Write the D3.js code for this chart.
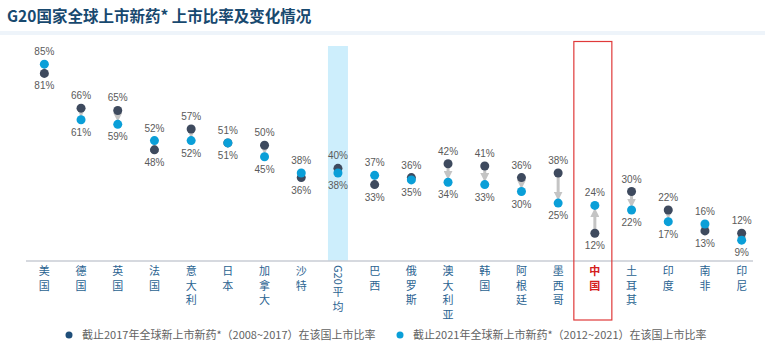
<!DOCTYPE html>
<html lang='zh'>
<head>
<meta charset='UTF-8'>
<title>G20 上市比率</title>
<script src='https://d3js.org/d3.v7.min.js'></script>
<style>
  body { margin: 0; background: #fff; }
  svg { display: block; font-family: 'Noto Sans CJK SC', 'Liberation Sans', sans-serif; }
</style>
</head>
<body>
<div id='chart'></div>
<script>
// data
const countries = ['美国', '德国', '英国', '法国', '意大利', '日本', '加拿大', '沙特', 'G20平均', '巴西',
  '俄罗斯', '澳大利亚', '韩国', '阿根廷', '墨西哥', '中国', '土耳其', '印度', '南非', '印尼'];
const rate2017 = [81, 66, 65, 48, 57, 51, 50, 36, 40, 33, 36, 42, 41, 36, 38, 12, 30, 22, 13, 12];
const rate2021 = [85, 61, 59, 52, 52, 51, 45, 38, 38, 37, 35, 34, 33, 30, 25, 24, 22, 17, 16, 9];
const legendLabels = ['截止2017年全球新上市新药*（2008~2017）在该国上市比率',
  '截止2021年全球新上市新药*（2012~2021）在该国上市比率'];

const W = 765, H = 354;
const dark = '#3e4a5e', light = '#0a9fd8', grey = '#c4c4c4';
const numFont = "'Liberation Sans', Arial, sans-serif";

const data = countries.map((c, i) => ({ name: c, a: rate2017[i], b: rate2021[i] }));

const svg = d3.select('#chart').append('svg').attr('width', W).attr('height', H);

// title + pale strip below it
svg.append('text')
  .attr('x', 7).attr('y', 22)
  .attr('font-size', 15.5).attr('font-weight', 'bold')
  .attr('fill', '#18496f')
  .text('G20国家全球上市新药* 上市比率及变化情况');
svg.append('rect').attr('x', 0).attr('y', 31).attr('width', W).attr('height', 4).attr('fill', '#eef4fa');

const x = d3.scaleBand().domain(countries).range([26, 760]);
const y = d3.scaleLinear().domain([0, 100]).range([261, 29.4]);
const cx = d => x(d) + x.bandwidth() / 2;

// highlight band for the G20 average
svg.append('rect')
  .attr('x', cx('G20平均') - 10).attr('y', 46)
  .attr('width', 20).attr('height', 261 - 46)
  .attr('fill', '#cdeefc');

// axis line
svg.append('line')
  .attr('x1', 26).attr('x2', 753).attr('y1', 261).attr('y2', 261)
  .attr('stroke', '#c9cdd5').attr('stroke-width', 1.5);

// arrowhead
svg.append('defs').append('marker')
  .attr('id', 'arr').attr('viewBox', '0 0 10 10')
  .attr('refX', 5).attr('refY', 5)
  .attr('markerWidth', 3).attr('markerHeight', 3)
  .attr('orient', 'auto')
  .append('path').attr('d', 'M0,0L10,5L0,10z').attr('fill', grey);

const g = svg.append('g');

// arrows from 2017 to 2021
data.filter(d => Math.abs(d.a - d.b) >= 3).forEach(d => {
  const dir = d.b < d.a ? 1 : -1;
  const y1 = y(d.a), y2 = y(d.b) - dir * 7;
  g.append('line')
    .attr('x1', cx(d.name)).attr('x2', cx(d.name))
    .attr('y1', y1).attr('y2', y2)
    .attr('stroke', grey).attr('stroke-width', 3)
    .attr('marker-end', 'url(#arr)');
});

// dots
g.selectAll('.d17').data(data).join('circle')
  .attr('cx', d => cx(d.name)).attr('cy', d => y(d.a)).attr('r', 4.5).attr('fill', dark);
g.selectAll('.d21').data(data).join('circle')
  .attr('cx', d => cx(d.name)).attr('cy', d => y(d.b)).attr('r', 4.5).attr('fill', light);

// value labels: larger above, smaller below
data.forEach(d => {
  const hi = Math.max(d.a, d.b), lo = Math.min(d.a, d.b);
  g.append('text').attr('x', cx(d.name)).attr('y', y(hi) - 9)
    .attr('text-anchor', 'middle').attr('font-size', 10).attr('fill', '#5a5a5a')
    .style('font-family', numFont)
    .text(hi + '%');
  g.append('text').attr('x', cx(d.name)).attr('y', y(lo) + 16)
    .attr('text-anchor', 'middle').attr('font-size', 10).attr('fill', '#5a5a5a')
    .style('font-family', numFont)
    .text(lo + '%');
});

// vertical category labels
data.forEach(d => {
  const isCN = d.name === '中国';
  const t = g.append('g').attr('transform', `translate(${cx(d.name)},0)`);
  let chars = Array.from(d.name);
  let yy = 275;
  if (d.name.startsWith('G20')) {
    t.append('text').attr('transform', `translate(-4,265) rotate(90)`)
      .attr('font-size', 11).attr('fill', '#2a6391').text('G20');
    chars = chars.slice(3);
    yy = 296;
  }
  chars.forEach((ch, i) => {
    t.append('text').attr('y', yy + i * 14.5)
      .attr('text-anchor', 'middle').attr('font-size', 11)
      .attr('font-weight', isCN ? 'bold' : 'normal')
      .attr('fill', isCN ? '#d42020' : '#2a6391')
      .text(ch);
  });
});

// red box around China
svg.append('rect')
  .attr('x', cx('中国') - 21).attr('y', 41.5)
  .attr('width', 38).attr('height', 320 - 41.5)
  .attr('fill', 'none').attr('stroke', '#e03a3a').attr('stroke-width', 1.2);

// legend
const legend = svg.append('g');
[[69, '#1f4e79', legendLabels[0]], [400, light, legendLabels[1]]].forEach(([lx, col, txt]) => {
  legend.append('circle').attr('cx', lx).attr('cy', 335).attr('r', 3.5).attr('fill', col);
  legend.append('text').attr('x', lx + 13).attr('y', 339)
    .attr('font-size', 11).attr('fill', '#626262').text(txt);
});
</script>
</body>
</html>
